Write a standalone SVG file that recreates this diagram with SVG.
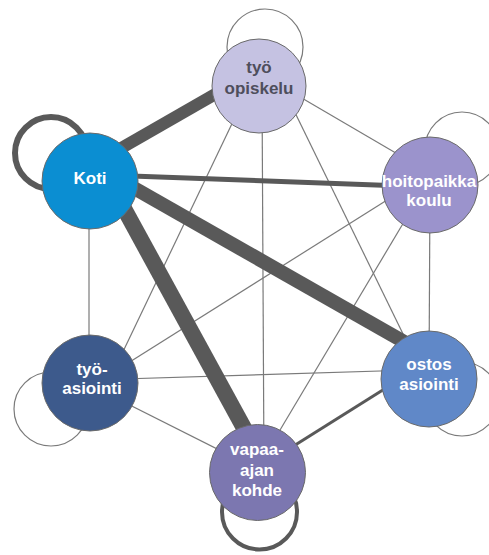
<svg xmlns="http://www.w3.org/2000/svg" width="489" height="555" viewBox="0 0 489 555">
  <style>
    .thin { stroke: #7a7a7a; stroke-width: 1.2; fill: none; }
    .heavy { stroke: #595959; fill: none; }
    .loop-thin { stroke: #7a7a7a; stroke-width: 1.2; fill: none; }
    .loop-heavy { stroke: #595959; fill: none; }
    .node { stroke: #6a6a6a; stroke-width: 1; }
    .label { font-family: "Liberation Sans", Arial, sans-serif; font-weight: bold; font-size: 17px; text-anchor: middle; fill: #ffffff; }
    .label.dark { fill: #4e4e5c; }
  </style>
  <rect width="489" height="555" fill="#ffffff"/>

  <!-- trips between places and trips returning to the same place -->
  <g id="connectors">
    <!-- self loops -->
    <circle class="loop-thin" cx="265" cy="47" r="38"/>
    <circle class="loop-heavy" cx="51" cy="153" r="36" stroke-width="6"/>
    <circle class="loop-thin" cx="462" cy="149" r="37"/>
    <circle class="loop-thin" cx="51" cy="409" r="37"/>
    <circle class="loop-thin" cx="462" cy="399" r="37"/>
    <circle class="loop-heavy" cx="259.5" cy="512" r="37.5" stroke-width="4"/>

    <!-- light connections -->
    <line class="thin" x1="89" y1="181" x2="89" y2="383"/>
    <line class="thin" x1="259" y1="73" x2="430" y2="173"/>
    <line class="thin" x1="250" y1="86" x2="108" y2="383"/>
    <line class="thin" x1="262" y1="86" x2="264" y2="472"/>
    <line class="thin" x1="282" y1="86" x2="425" y2="379"/>
    <line class="thin" x1="430" y1="173" x2="90" y2="387"/>
    <line class="thin" x1="426" y1="185" x2="255" y2="472"/>
    <line class="thin" x1="430" y1="185" x2="429" y2="379"/>
    <line class="thin" x1="90" y1="380" x2="429" y2="369.5"/>
    <line class="thin" x1="90" y1="385" x2="257" y2="469"/>

    <!-- heavier connections -->
    <line class="heavy" x1="429" y1="361" x2="257" y2="469" stroke-width="3"/>
    <line class="heavy" x1="90" y1="174.5" x2="430" y2="187" stroke-width="5"/>
    <line class="heavy" x1="90" y1="166" x2="259" y2="69" stroke-width="12"/>
    <line class="heavy" x1="90" y1="163" x2="429" y2="356" stroke-width="14"/>
    <line class="heavy" x1="109" y1="181" x2="268" y2="472" stroke-width="16"/>
  </g>

  <g id="node-tyo-opiskelu">
    <circle class="node" cx="259" cy="86" r="47" fill="#c5c2e2"/>
    <text class="label dark" x="259" y="73">työ</text>
    <text class="label dark" x="259" y="94">opiskelu</text>
  </g>

  <g id="node-koti">
    <circle class="node" cx="90" cy="181" r="48" fill="#0b8ed2" stroke="#0a78b2"/>
    <text class="label" x="90" y="184">Koti</text>
  </g>

  <g id="node-hoitopaikka">
    <circle class="node" cx="430" cy="185" r="48" fill="#9b93cc"/>
    <text class="label" x="429" y="187" font-size="16.5">hoitopaikka</text>
    <text class="label" x="429" y="206">koulu</text>
  </g>

  <g id="node-tyoasiointi">
    <circle class="node" cx="90" cy="383" r="48" fill="#3d5a8c"/>
    <text class="label" x="92" y="375">työ-</text>
    <text class="label" x="92" y="394">asiointi</text>
  </g>

  <g id="node-ostos">
    <circle class="node" cx="429" cy="379" r="48" fill="#6088c8"/>
    <text class="label" x="429" y="370">ostos</text>
    <text class="label" x="429" y="390">asiointi</text>
  </g>

  <g id="node-vapaa-ajan">
    <circle class="node" cx="257.5" cy="472.5" r="48" fill="#7c77b0"/>
    <text class="label" x="257" y="455">vapaa-</text>
    <text class="label" x="257" y="476">ajan</text>
    <text class="label" x="257" y="496">kohde</text>
  </g>
</svg>
